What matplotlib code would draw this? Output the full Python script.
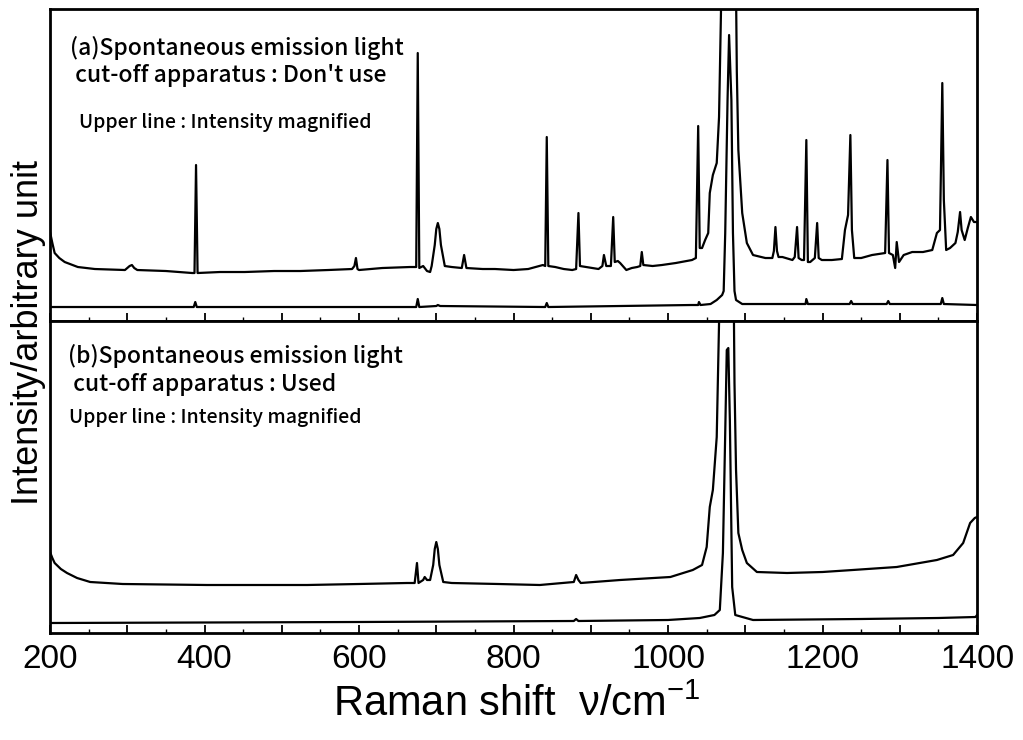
import matplotlib
matplotlib.use("Agg")
import matplotlib.pyplot as plt
from matplotlib.ticker import MultipleLocator

plt.rcParams['font.family'] = ['Liberation Sans', 'DejaVu Sans']
plt.rcParams['mathtext.default'] = 'regular'

# ---- data (Raman shift cm-1, intensity arb. unit) ----
# (a) cut-off apparatus not used, magnified trace
a_upper_x = [200, 203, 206, 212, 219, 236, 258, 297, 303, 306, 309, 313, 350, 384, 387, 389, 391,
             420, 452, 490, 524, 560, 591, 594, 596, 598, 600, 630, 666, 674, 676, 678, 683, 688,
             692, 694, 698, 700, 702, 704, 706, 711, 720, 733, 736, 739, 760, 776, 800, 819, 838,
             841, 843, 845, 854, 865, 876, 881, 884, 886, 902, 910, 915, 917, 920, 926, 929, 931,
             935, 938, 946, 953, 960, 964, 966, 968, 980, 992, 1010, 1031, 1036, 1039, 1041, 1044,
             1048, 1052, 1054, 1058, 1063, 1066, 1069, 1079, 1088, 1089, 1091, 1096, 1102, 1110,
             1126, 1135, 1137, 1139, 1141, 1143, 1148, 1161, 1164, 1167, 1169, 1173, 1176, 1179,
             1181, 1184, 1190, 1193, 1195, 1199, 1212, 1225, 1229, 1233, 1236, 1238, 1241, 1250,
             1264, 1281, 1284, 1286, 1291, 1294, 1296, 1299, 1305, 1316, 1330, 1342, 1348, 1352,
             1355, 1357, 1360, 1365, 1372, 1375, 1378, 1380, 1384, 1388, 1392, 1396, 1400]
a_upper_y = [89, 78, 68, 63, 59, 54, 52, 51, 55, 56, 53, 51, 50, 48, 48, 156, 48,
             49, 49, 50, 50, 51, 52, 55, 63, 52, 51, 53, 54, 54, 268, 53, 55, 50,
             49, 55, 76, 92, 98, 92, 76, 55, 54, 53, 66, 53, 52, 52, 51, 52, 56,
             55, 184, 55, 54, 52, 51, 52, 108, 55, 53, 52, 55, 66, 55, 55, 104, 59,
             60, 58, 51, 53, 54, 55, 69, 56, 55, 56, 58, 61, 63, 195, 73, 73,
             81, 88, 128, 146, 158, 204, 330, 2300, 330, 250, 171, 108, 78, 66,
             63, 63, 70, 94, 70, 64, 64, 61, 64, 94, 63, 61, 61, 181,
             59, 59, 63, 98, 63, 61, 61, 62, 91, 106, 186, 91, 63, 63,
             66, 68, 161, 68, 66, 53, 79, 59, 66, 69, 69, 71, 88, 91,
             238, 121, 71, 73, 78, 89, 109, 91, 81, 93, 104, 99, 99]

# (a) normal trace
a_lower_x = [200, 386, 388, 390, 674, 676, 678, 700, 702, 705, 841, 843, 845, 1030, 1039, 1040,
             1042, 1055, 1063, 1070, 1072, 1074, 1077, 1079, 1082, 1084, 1086, 1088, 1096, 1178,
             1179, 1181, 1235, 1237, 1239, 1283, 1285, 1287, 1353, 1355, 1357, 1400]
a_lower_y = [14, 14, 19, 14, 14, 22, 14, 15, 16, 15, 14, 18, 14, 16, 16, 19,
             16, 17, 21, 26, 30, 88, 221, 286, 221, 88, 30, 21, 17, 17,
             22, 17, 17, 20, 17, 17, 20, 17, 17, 23, 17, 16]

# (b) cut-off apparatus used, magnified trace
b_upper_x = [200, 203, 206, 214, 222, 235, 252, 294, 403, 533, 600, 662, 672, 675, 677, 683, 685,
             688, 692, 696, 698, 700, 702, 704, 709, 720, 780, 834, 878, 881, 884, 887, 938, 1003,
             1032, 1044, 1050, 1054, 1058, 1063, 1066, 1067, 1077, 1085, 1086, 1088, 1091, 1096,
             1102, 1115, 1154, 1200, 1239, 1296, 1348, 1369, 1382, 1391, 1397, 1400]
b_upper_y = [81, 75, 70, 64, 60, 55, 51, 49, 48, 48, 49, 50, 50, 70, 50, 53, 56,
             53, 53, 68, 84, 91, 84, 68, 51, 50, 49, 48, 51, 58, 53, 50, 53, 56,
             63, 68, 86, 126, 143, 196, 310, 340, 2300, 340, 250, 163, 100, 83,
             70, 61, 60, 61, 63, 66, 73, 78, 90, 110, 115, 116]

# (b) normal trace
b_lower_x = [200, 600, 878, 881, 884, 1000, 1041, 1060, 1067, 1071, 1074, 1076, 1078, 1080, 1083,
             1087, 1110, 1250, 1350, 1398, 1400]
b_lower_y = [10, 11, 12, 14, 12, 13, 15, 18, 23, 80, 200, 283, 285, 213, 46,
             18, 13, 14, 15, 16, 18]

tick_values = list(range(200, 1401, 100))
tick_labels = ['200', '', '400', '', '600', '', '800', '', '1000', '', '1200', '', '1400']

label_a = "(a)Spontaneous emission light\n cut-off apparatus : Don't use"
label_b = "(b)Spontaneous emission light\n cut-off apparatus : Used"
label_mag = "Upper line : Intensity magnified"

# ---- figure ----
fig = plt.figure(figsize=(10.23, 7.40), dpi=100)
ax_a = fig.add_axes([0.0489, 0.5662, 0.9062, 0.4216])
ax_b = fig.add_axes([0.0489, 0.1446, 0.9062, 0.4216])

jp = ['Noto Sans CJK JP', 'DejaVu Sans']

for ax in (ax_a, ax_b):
    ax.set_xlim(200, 1400)
    ax.set_ylim(0, 312)
    ax.set_yticks([])
    ax.set_xticks(tick_values)
    ax.xaxis.set_minor_locator(MultipleLocator(50))
    ax.tick_params(axis='x', which='major', direction='in', length=6, width=1.3,
                   top=False, labelsize=24, pad=8)
    ax.tick_params(axis='x', which='minor', direction='in', length=3, width=1.0, top=False)
    for s in ax.spines.values():
        s.set_linewidth(2.0)

ax_a.plot(a_upper_x, a_upper_y, color='black', lw=1.6)
ax_a.plot(a_lower_x, a_lower_y, color='black', lw=1.6)
ax_a.tick_params(axis='x', labelbottom=False)

ax_b.plot(b_upper_x, b_upper_y, color='black', lw=1.6)
ax_b.plot(b_lower_x, b_lower_y, color='black', lw=1.6)
ax_b.set_xticklabels(tick_labels)

ax_a.text(0.022, 0.915, label_a, transform=ax_a.transAxes, fontsize=16.5, family=jp,
          weight='medium', va='top', ha='left', linespacing=1.25)
ax_a.text(0.031, 0.635, label_mag, transform=ax_a.transAxes, fontsize=14, family=jp,
          weight='medium', va='center', ha='left')
ax_b.text(0.019, 0.925, label_b, transform=ax_b.transAxes, fontsize=16.5, family=jp,
          weight='medium', va='top', ha='left', linespacing=1.25)
ax_b.text(0.021, 0.69, label_mag, transform=ax_b.transAxes, fontsize=14, family=jp,
          weight='medium', va='center', ha='left')

fig.text(0.028, 0.551, 'Intensity/arbitrary unit', rotation=90, fontsize=26,
         ha='center', va='center')
fig.text(0.505, 0.047, 'Raman shift  ν/cm$^{-1}$', fontsize=30, ha='center', va='center')

fig.savefig('out.png', dpi=100)
